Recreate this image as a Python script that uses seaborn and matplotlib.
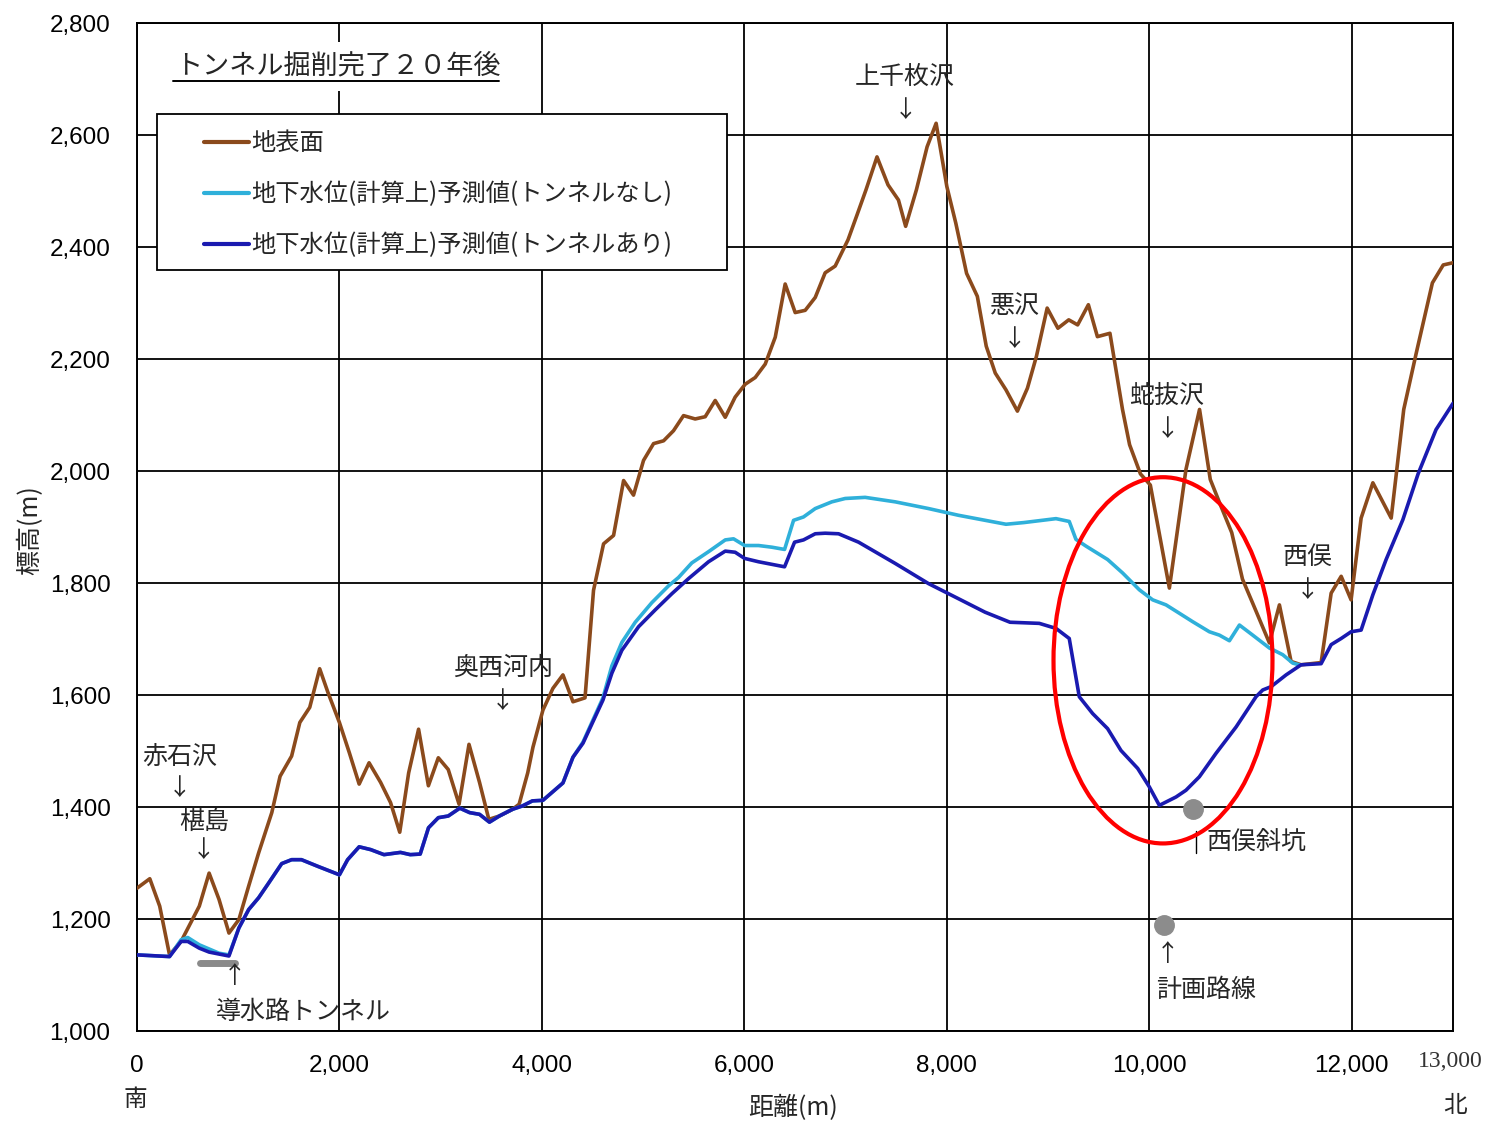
import numpy as np
import pandas as pd
import matplotlib
matplotlib.use("Agg")
import matplotlib.pyplot as plt
import seaborn as sns
from matplotlib import font_manager
from matplotlib.patches import Rectangle, Ellipse
from matplotlib.ticker import FuncFormatter

# ---------------- data ----------------
ground_x = [0, 127, 225, 322, 436, 616, 713, 811, 909, 1007, 1104, 1202, 1332, 1414, 1528,
            1609, 1707, 1805, 1886, 2000, 2098, 2195, 2293, 2407, 2505, 2596, 2684, 2782,
            2879, 2977, 3075, 3182, 3280, 3384, 3476, 3580, 3710, 3775, 3860, 3912, 4010,
            4109, 4208, 4307, 4426, 4510, 4609, 4708, 4807, 4905, 5004, 5103, 5202, 5300,
            5399, 5514, 5613, 5712, 5811, 5909, 6008, 6107, 6206, 6305, 6403, 6502, 6601,
            6700, 6798, 6897, 7024, 7112, 7201, 7310, 7419, 7522, 7593, 7699, 7805, 7894,
            8000, 8088, 8195, 8301, 8389, 8478, 8584, 8697, 8796, 8885, 8991, 9097, 9204,
            9292, 9398, 9487, 9611, 9735, 9805, 9912, 10010, 10198, 10362, 10496, 10602,
            10708, 10814, 10920, 11021, 11186, 11285, 11400, 11499, 11697, 11796, 11895,
            11993, 12092, 12208, 12389, 12513, 12637, 12796, 12903, 13000]
ground_y = [1255, 1272, 1223, 1136, 1160, 1223, 1282, 1235, 1175, 1199, 1259, 1318, 1390, 1455,
            1491, 1551, 1578, 1647, 1605, 1551, 1497, 1441, 1479, 1444, 1408, 1355, 1461,
            1539, 1438, 1488, 1467, 1405, 1512, 1444, 1378, 1384, 1396, 1405, 1461, 1507,
            1573, 1612, 1636, 1588, 1595, 1787, 1870, 1885, 1983, 1957, 2019, 2049, 2054,
            2072, 2099, 2093, 2097, 2126, 2096, 2132, 2155, 2167, 2191, 2239, 2334, 2283,
            2287, 2310, 2354, 2366, 2413, 2457, 2502, 2561, 2511, 2484, 2437, 2502, 2579,
            2621, 2508, 2443, 2353, 2312, 2223, 2175, 2145, 2107, 2148, 2205, 2291, 2255,
            2270, 2261, 2297, 2240, 2246, 2110, 2047, 1995, 1975, 1791, 2003, 2110, 1985,
            1937, 1890, 1807, 1764, 1693, 1761, 1660, 1654, 1658, 1782, 1812, 1770, 1916,
            1979, 1916, 2110, 2211, 2336, 2368, 2372]

no_tunnel_x = [0, 322, 436, 502, 616, 811, 909, 1007, 1104, 1202, 1300, 1430, 1528, 1625, 1788,
               2000, 2081, 2195, 2309, 2440, 2603, 2700, 2798, 2880, 2977, 3075, 3189, 3287,
               3384, 3482, 3580, 3710, 3808, 3906, 4010, 4208, 4307, 4406, 4603, 4691, 4790,
               4922, 5086, 5251, 5350, 5481, 5646, 5811, 5893, 6002, 6140, 6272, 6397, 6486,
               6584, 6700, 6864, 6996, 7193, 7490, 7819, 8115, 8584, 8761, 9078, 9209, 9275,
               9374, 9588, 9736, 9901, 10033, 10165, 10297, 10428, 10593, 10692, 10791,
               10890, 11021, 11186, 11318, 11417, 11483]
no_tunnel_y = [1136, 1133, 1163, 1167, 1154, 1139, 1136, 1184, 1217, 1238, 1264, 1299, 1306,
               1306, 1294, 1279, 1306, 1329, 1324, 1315, 1319, 1315, 1316, 1363, 1381, 1384,
               1398, 1390, 1387, 1373, 1384, 1396, 1402, 1411, 1412, 1443, 1489, 1516, 1595,
               1652, 1694, 1730, 1765, 1795, 1810, 1836, 1856, 1877, 1879, 1867, 1867, 1864,
               1860, 1912, 1918, 1933, 1945, 1951, 1953, 1945, 1933, 1921, 1905, 1908, 1915,
               1910, 1878, 1866, 1842, 1818, 1788, 1770, 1761, 1746, 1731, 1713, 1707, 1697,
               1725, 1707, 1684, 1672, 1657, 1654]

tunnel_x = [0, 322, 436, 502, 616, 713, 909, 1007, 1104, 1202, 1300, 1430, 1528, 1625, 1788,
            2000, 2081, 2195, 2309, 2440, 2603, 2700, 2798, 2880, 2977, 3075, 3189, 3287,
            3384, 3482, 3580, 3710, 3808, 3906, 4010, 4208, 4307, 4406, 4603, 4691, 4790,
            4955, 5119, 5284, 5449, 5646, 5811, 5909, 6002, 6140, 6397, 6496, 6584, 6700,
            6798, 6930, 7128, 7490, 7819, 8115, 8377, 8624, 8913, 9078, 9209, 9308, 9440,
            9588, 9720, 9885, 10000, 10099, 10264, 10362, 10494, 10659, 10857, 11054,
            11120, 11203, 11351, 11499, 11697, 11796, 11895, 11993, 12092, 12208, 12339,
            12504, 12655, 12832, 13000]
tunnel_y = [1136, 1133, 1160, 1160, 1148, 1141, 1134, 1184, 1217, 1238, 1264, 1299, 1306,
            1306, 1294, 1279, 1306, 1329, 1324, 1315, 1319, 1315, 1316, 1363, 1381, 1384,
            1398, 1390, 1387, 1373, 1384, 1396, 1402, 1411, 1412, 1443, 1489, 1514, 1591,
            1639, 1680, 1722, 1752, 1781, 1808, 1838, 1857, 1855, 1844, 1838, 1829, 1873,
            1877, 1888, 1889, 1888, 1873, 1835, 1799, 1772, 1748, 1730, 1728, 1719, 1701,
            1597, 1567, 1540, 1501, 1469, 1436, 1403, 1418, 1430, 1454, 1496, 1543, 1597,
            1609, 1615, 1636, 1654, 1656, 1690, 1701, 1713, 1716, 1779, 1842, 1913, 1995,
            2074, 2121]

series_labels = ["地表面",
                 "地下水位(計算上)予測値(トンネルなし)",
                 "地下水位(計算上)予測値(トンネルあり)"]

conduit_x = [624, 970]          # 導水路トンネル (gray bar)
conduit_y = [1121, 1121]
points_x = [10435, 10148]       # 西俣斜坑, 計画路線
points_y = [1396, 1189]

place_names = ["上千枚沢", "悪沢", "蛇抜沢", "西俣", "奥西河内", "赤石沢", "椹島"]
place_x = [7587, 8673, 10175, 11558, 3616, 425, 662]
place_y = [2704, 2295, 2134, 1846, 1648, 1489, 1373]
arrow_dy = [60, 60, 60, 60, 60, 55, 50]

x_ticks = [0, 2000, 4000, 6000, 8000, 10000, 12000]
y_ticks = [1000, 1200, 1400, 1600, 1800, 2000, 2200, 2400, 2600, 2800]

# ---------------- style ----------------
sns.set_theme(style="white")
plt.rcParams["font.family"] = ["Noto Sans CJK JP", "DejaVu Sans"]
names = {f.name for f in font_manager.fontManager.ttflist}
num_font = "Liberation Sans Narrow" if "Liberation Sans Narrow" in names else "Liberation Sans"
num_size = 19 if num_font == "Liberation Sans Narrow" else 17.5

BROWN = "#8B4A1C"
CYAN = "#2FB0DA"
BLUE = "#1A1AB0"

fig = plt.figure(figsize=(14.9, 11.24), dpi=100)
ax = fig.add_axes([0.0919, 0.0827, 0.8833, 0.8968])
ax.set_facecolor("white")

df_g = pd.DataFrame({"x": ground_x, "y": ground_y})
df_n = pd.DataFrame({"x": no_tunnel_x, "y": no_tunnel_y})
df_t = pd.DataFrame({"x": tunnel_x, "y": tunnel_y})
sns.lineplot(data=df_g, x="x", y="y", ax=ax, color=BROWN, linewidth=2.6,
             estimator=None, sort=False, label=series_labels[0], zorder=3)
sns.lineplot(data=df_n, x="x", y="y", ax=ax, color=CYAN, linewidth=2.6,
             estimator=None, sort=False, label=series_labels[1], zorder=3.1)
sns.lineplot(data=df_t, x="x", y="y", ax=ax, color=BLUE, linewidth=2.6,
             estimator=None, sort=False, label=series_labels[2], zorder=3.2)

ax.set_xlim(0, 13000)
ax.set_ylim(1000, 2800)
ax.set_xticks(x_ticks)
ax.set_yticks(y_ticks)
fmt = FuncFormatter(lambda v, p: f"{int(v):,}")
ax.xaxis.set_major_formatter(fmt)
ax.yaxis.set_major_formatter(fmt)
ax.grid(True, color="black", linewidth=1.3)
ax.set_axisbelow(True)
for s in ax.spines.values():
    s.set_color("black")
    s.set_linewidth(1.4)
ax.tick_params(axis="both", direction="out", length=6, width=1.3, color="black",
               labelsize=num_size, labelcolor="black")
ax.tick_params(axis="y", pad=13)
ax.tick_params(axis="x", pad=11)
for lab in ax.get_xticklabels() + ax.get_yticklabels():
    lab.set_fontfamily(num_font)
ax.set_xlabel("")
ax.set_ylabel("")

# legend with manual frame
ax.add_patch(Rectangle((0.0152, 0.7550), 0.4331, 0.1547, transform=ax.transAxes,
                       facecolor="white", edgecolor="black", linewidth=1.3, zorder=4))
leg = ax.legend(loc="upper left", bbox_to_anchor=(0.0510, 0.8935), frameon=False,
                fontsize=17.5, handlelength=1.85, handletextpad=0.08, labelspacing=1.03,
                borderpad=0.0, borderaxespad=0.0)
leg.set_zorder(5)
for line in leg.get_lines():
    line.set_linewidth(3)

# title text (underlined, white background)
ax.text(375, 2723, "トンネル掘削完了２０年後", fontsize=19.5, ha="left", va="center",
        zorder=4, bbox=dict(facecolor="white", edgecolor="none", pad=8))
ax.plot([356, 3576], [2696, 2696], color="black", linewidth=1.4, zorder=5, clip_on=False)

# place annotations
for name, px, py, dy in zip(place_names, place_x, place_y, arrow_dy):
    ax.text(px, py, name, fontsize=18, ha="center", va="center", zorder=5)
    ax.text(px, py - dy, "↓", fontsize=17, ha="center", va="center", zorder=5)

# conduit tunnel & points
ax.plot(conduit_x, conduit_y, color="#8a8a8a", linewidth=5, solid_capstyle="round", zorder=3)
ax.text(968, 1098, "↑", fontsize=17, ha="center", va="center")
ax.text(1645, 1034, "導水路トンネル", fontsize=18, ha="center", va="center")
ax.plot(points_x, points_y, linestyle="none", marker="o", markersize=14,
        color="#8c8c8c", zorder=4)
ax.text(10175, 1136, "↑", fontsize=17, ha="center", va="center")
ax.text(10560, 1073, "計画路線", fontsize=18, ha="center", va="center")
ax.plot([10460, 10460], [1318, 1358], color="black", linewidth=1.0)
ax.text(10565, 1336, "西俣斜坑", fontsize=18, ha="left", va="center")

# red ellipse
ax.add_patch(Ellipse((10135, 1662), 2163, 654, fill=False, edgecolor="red",
                     linewidth=3, zorder=6))

# outer labels
fig.text(0.0201, 0.5285, "標高(m)", rotation=90, fontsize=18, ha="center", va="center")
fig.text(0.532, 0.0142, "距離(m)", fontsize=18, ha="center", va="center")
fig.text(0.0906, 0.0214, "南", fontsize=17, ha="center", va="center")
fig.text(0.9765, 0.0169, "北", fontsize=17, ha="center", va="center")
fig.text(0.9732, 0.0552, "13,000", fontsize=17, ha="center", va="center",
         color="#333333", fontfamily="Liberation Serif")

fig.savefig("out.png", dpi=100, facecolor="white")
